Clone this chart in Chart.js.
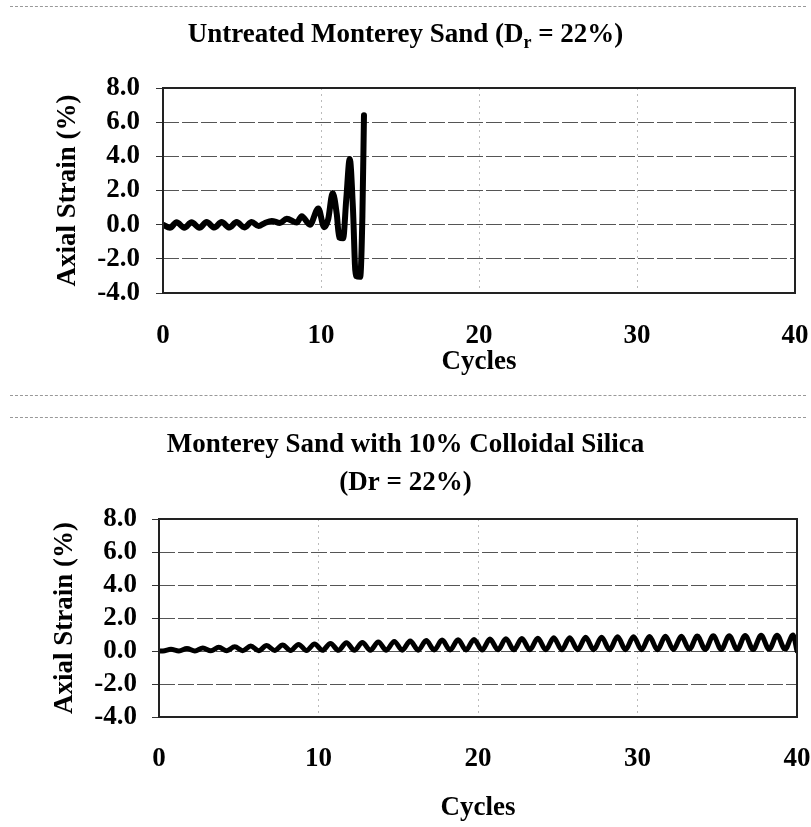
<!DOCTYPE html>
<html>
<head>
<meta charset="utf-8">
<script src="https://cdn.jsdelivr.net/npm/chart.js@4.4.0/dist/chart.umd.min.js"></script>
<style>
  body { margin: 0; background: #fff; }
  #wrap { position: relative; width: 811px; height: 827px; }
  canvas { position: absolute; left: 0; }
  .sep { position: absolute; left: 10px; width: 796px; border-top: 1px dashed #999; }
</style>
</head>
<body>
<div id="wrap">
  <div class="sep" style="top:6px"></div>
  <div class="sep" style="top:395px"></div>
  <div class="sep" style="top:417px"></div>
  <canvas id="untreated" width="811" height="400" style="top:0;width:811px;height:400px"></canvas>
  <canvas id="silica" width="811" height="427" style="top:400px;width:811px;height:427px"></canvas>
</div>
<script>
"use strict";
// Untreated sand: strain at turning points
const untreatedCycles = [0, 0.44, 0.86, 1.35, 1.81, 2.3, 2.76, 3.25, 3.71, 4.2, 4.66, 5.15, 5.61,
  6.05, 6.45, 6.88, 7.4, 7.83, 8.46, 8.78, 9.3, 9.83, 10.2, 10.45, 10.74, 11.0, 11.15, 11.4,
  11.6, 11.82, 12.02, 12.2, 12.48, 12.62, 12.72];
const untreatedStrain = [0, -0.18, 0.14, -0.18, 0.14, -0.18, 0.15, -0.17, 0.15, -0.17, 0.15, -0.16, 0.16,
  -0.08, 0.1, 0.22, 0.1, 0.35, 0.12, 0.5, 0.0, 0.95, -0.15, 0.3, 1.85, 0.6, -0.75, -0.8,
  1.5, 3.85, 1.0, -3.0, -3.05, 0.5, 6.4];

// Colloidal silica: one trough and one peak per cycle (cycles 1..40)
const silicaTroughs = [0.0, 0.0, 0.0, 0.01, 0.01, 0.02, 0.02, 0.03, 0.03, 0.03, 0.04, 0.04, 0.04, 0.05,
  0.05, 0.05, 0.05, 0.06, 0.06, 0.06, 0.06, 0.07, 0.07, 0.07, 0.07, 0.07, 0.08, 0.08, 0.08, 0.08,
  0.08, 0.08, 0.09, 0.09, 0.09, 0.09, 0.09, 0.09, 0.1, 0.1];
const silicaPeaks = [0.10, 0.15, 0.18, 0.22, 0.25, 0.30, 0.33, 0.36, 0.40, 0.43, 0.46, 0.50, 0.52, 0.55,
  0.58, 0.61, 0.63, 0.66, 0.68, 0.70, 0.72, 0.74, 0.76, 0.78, 0.80, 0.81, 0.83, 0.84, 0.86, 0.87,
  0.88, 0.89, 0.90, 0.91, 0.92, 0.93, 0.94, 0.95, 0.96, 0.97];
const silicaStart = 0.0;
const silicaEnd = 0.0;

const yTicks = [-4, -2, 0, 2, 4, 6, 8];
const xTicks = [0, 10, 20, 30, 40];

const serif = "'Liberation Serif', 'Times New Roman', serif";

const untreatedPoints = untreatedCycles.map((c, i) => ({ x: c, y: untreatedStrain[i] }));
const silicaPoints = [{ x: 0, y: silicaStart }];
silicaPeaks.forEach((p, n) => {
  silicaPoints.push({ x: n + 0.25, y: silicaTroughs[n] });
  silicaPoints.push({ x: n + 0.75, y: p });
});
silicaPoints.push({ x: 40, y: silicaEnd });

// frame round the plot area + titles (with subscript support)
const frameAndTitle = {
  id: "frameAndTitle",
  afterDraw(chart, args, opts) {
    const ctx = chart.ctx;
    const a = chart.chartArea;
    ctx.save();
    ctx.strokeStyle = "#222";
    ctx.lineWidth = 2;
    ctx.strokeRect(a.left, a.top, a.right - a.left, a.bottom - a.top);

    ctx.fillStyle = "#000";
    ctx.textBaseline = "alphabetic";
    ctx.textAlign = "left";
    const big = "bold 27px " + serif;
    const small = "bold 18px " + serif;
    opts.lines.forEach((line) => {
      let total = 0;
      line.parts.forEach((p) => {
        ctx.font = p.sub ? small : big;
        total += ctx.measureText(p.text).width;
      });
      let x = chart.width / 2 - total / 2;
      line.parts.forEach((p) => {
        ctx.font = p.sub ? small : big;
        ctx.fillText(p.text, x, line.y + (p.sub ? 6 : 0));
        x += ctx.measureText(p.text).width;
      });
    });
    ctx.restore();
  },
};

function makeChart(id, points, lineWidth, box) {
  return new Chart(document.getElementById(id), {
    type: "line",
    data: {
      datasets: [{
        data: points,
        borderColor: "#000",
        borderWidth: lineWidth,
        pointRadius: 0,
        fill: false,
        cubicInterpolationMode: "monotone",
        borderCapStyle: "round",
        borderJoinStyle: "round",
      }],
    },
    options: {
      responsive: false,
      animation: false,
      events: [],
      layout: { padding: { top: box.top, right: box.right, bottom: 0, left: 0 } },
      scales: {
        x: {
          type: "linear",
          min: 0,
          max: 40,
          afterBuildTicks: (s) => { s.ticks = xTicks.map((v) => ({ value: v })); },
          afterFit: (s) => { s.height = box.xHeight; s.paddingLeft = 0; s.paddingRight = 0; },
          grid: { color: "#bbb", lineWidth: 1, drawTicks: false },
          border: { display: false, dash: [2, 4] },
          ticks: {
            color: "#000",
            padding: box.xPad,
            maxRotation: 0,
            autoSkip: false,
            font: { family: serif, size: 27, weight: "bold" },
          },
          title: {
            display: true,
            text: "Cycles",
            color: "#000",
            padding: { top: 0, bottom: box.cyclesPad },
            font: { family: serif, size: 27, weight: "bold" },
          },
        },
        y: {
          min: -4,
          max: 8,
          afterBuildTicks: (s) => { s.ticks = yTicks.map((v) => ({ value: v })); },
          afterFit: (s) => { s.width = box.left; s.paddingTop = 0; s.paddingBottom = 0; },
          grid: { color: "#555", lineWidth: 1, tickLength: 7, tickColor: "#333", tickBorderDash: [] },
          border: { display: false, dash: [16, 3] },
          ticks: {
            color: "#000",
            padding: box.yPad,
            autoSkip: false,
            font: { family: serif, size: 27, weight: "bold" },
            callback: (v) => Number(v).toFixed(1),
          },
          title: {
            display: true,
            text: "Axial Strain (%)",
            color: "#000",
            padding: { top: box.yTitlePad, bottom: 0 },
            font: { family: serif, size: 27, weight: "bold" },
          },
        },
      },
      plugins: {
        legend: { display: false },
        tooltip: { enabled: false },
        frameAndTitle: { lines: box.lines },
      },
    },
    plugins: [frameAndTitle],
  });
}

makeChart("untreated", untreatedPoints, 6, {
  top: 88, right: 16, left: 163, xHeight: 107,
  xPad: 27, cyclesPad: 22, yPad: 16, yTitlePad: 52,
  lines: [{ y: 42, parts: [
    { text: "Untreated Monterey Sand (D" },
    { text: "r", sub: true },
    { text: " = 22%)" },
  ] }],
});

makeChart("silica", silicaPoints, 5, {
  top: 119, right: 14, left: 159, xHeight: 110,
  xPad: 26, cyclesPad: 3, yPad: 15, yTitlePad: 49,
  lines: [
    { y: 52, parts: [{ text: "Monterey Sand with 10% Colloidal Silica" }] },
    { y: 90, parts: [{ text: "(Dr = 22%)" }] },
  ],
});
</script>
</body>
</html>
